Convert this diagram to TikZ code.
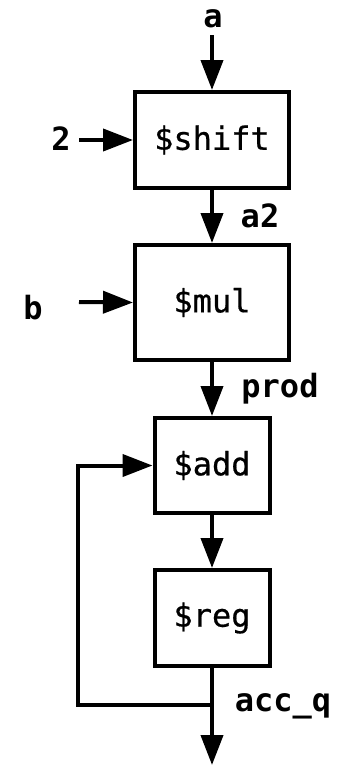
\documentclass[tikz,border=0pt]{standalone}
\usepackage{fontspec}
\setmonofont{DejaVu Sans Mono}
\newfontfamily\boxmono[FakeBold=0.6]{DejaVu Sans Mono}
\usetikzlibrary{arrows.meta}
\begin{document}
\begin{tikzpicture}[x=1pt,y=1pt,
  line width=4pt,
  blk/.style={draw, line width=4pt, rectangle, inner sep=0pt, font=\fontsize{32}{36}\selectfont\boxmono},
  lbl/.style={inner sep=0pt, font=\fontsize{32}{36}\selectfont\ttfamily\bfseries},
  wire/.style={line width=4pt, -{Triangle[length=30pt,width=22pt]}}]
\useasboundingbox (0,0) rectangle (350,-766);
\node[blk, minimum width=154pt, minimum height=96pt] (shift) at (212,-140) {\$shift};
\node[blk, minimum width=154pt, minimum height=115pt] (mul) at (212,-302.5) {\$mul};
\node[blk, minimum width=115pt, minimum height=95pt] (add) at (212,-465.5) {\$add};
\node[blk, minimum width=115pt, minimum height=96pt] (reg) at (212,-618) {\$reg};
\node[lbl] (la) at (213,-19) {a};
\node[lbl] (l2) at (61,-139) {2};
\node[lbl] (lb) at (33,-308) {b};
\node[lbl] (la2) at (260,-216) {a2};
\node[lbl] (lprod) at (280,-389) {prod};
\node[lbl] (lacc) at (283,-706) {acc\_q};
\coordinate (ain) at (212,-35);
\coordinate (twoin) at (79,-140);
\coordinate (bin) at (79,-302);
\coordinate (junc) at (212,-705);
\coordinate (fbl) at (78,-705);
\coordinate (fbt) at (78,-465.5);
\coordinate (out) at (212,-765);
\draw[wire] (ain) -- (shift.north);
\draw[wire] (twoin) -- (shift.west);
\draw[wire] (bin) -- (mul.west);
\draw[wire] (shift.south) -- (mul.north);
\draw[wire] (mul.south) -- (add.north);
\draw[wire] (add.south) -- (reg.north);
\draw[wire] (reg.south) -- (out);
\draw[wire, line join=miter] (junc) -- (fbl) -- (fbt) -- (add.west);
\end{tikzpicture}
\end{document}
